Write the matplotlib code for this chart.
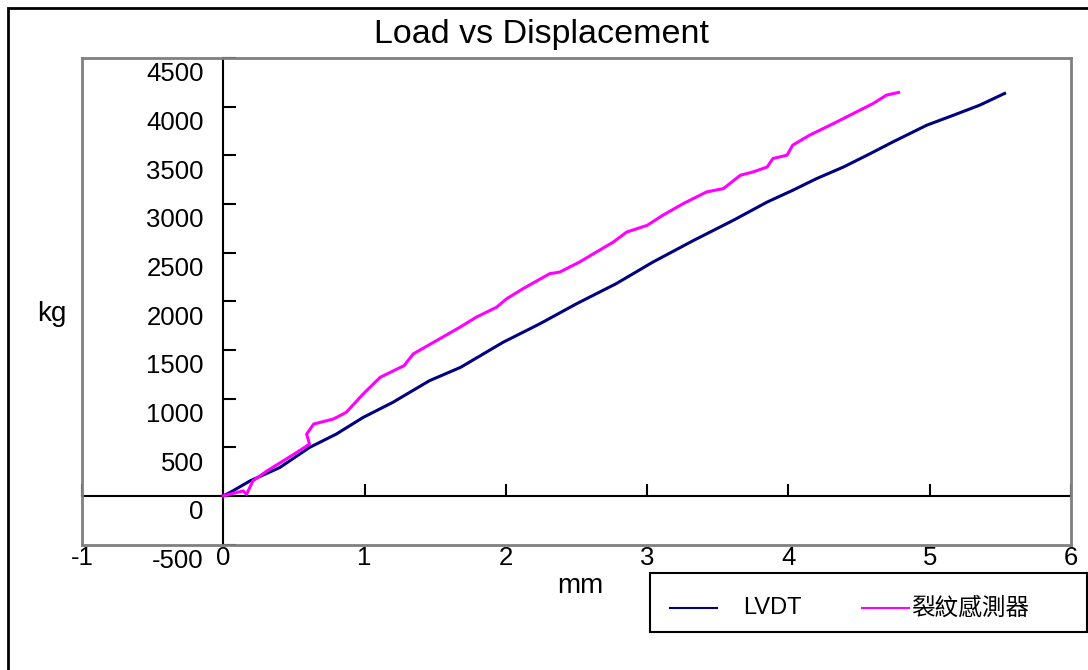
import matplotlib
matplotlib.use("Agg")
import matplotlib.pyplot as plt
from matplotlib.patches import Rectangle
from matplotlib.lines import Line2D
from matplotlib.transforms import ScaledTranslation

plt.rcParams['font.family'] = ['Liberation Sans', 'Noto Sans CJK TC', 'DejaVu Sans']
plt.rcParams['axes.unicode_minus'] = False

# LVDT readings (mm, kg)
lvdt_mm = [0, 0.047, 0.19, 0.40, 0.61, 0.80, 0.99, 1.20, 1.46, 1.68, 1.98, 2.24,
           2.50, 2.78, 3.04, 3.33, 3.61, 3.85, 4.03, 4.20, 4.39, 4.58, 4.74, 4.98,
           5.17, 5.355, 5.53]
lvdt_kg = [0, 34, 154, 291, 497, 635, 806, 961, 1184, 1321, 1578, 1768,
           1974, 2180, 2402, 2626, 2832, 3020, 3140, 3261, 3380, 3518, 3638, 3810,
           3913, 4016, 4136]

# crack gauge readings (mm, kg)
crack_mm = [0, 0.047, 0.14, 0.165, 0.21, 0.31, 0.425, 0.52, 0.61, 0.59, 0.64, 0.78,
            0.87, 0.99, 1.11, 1.28, 1.345, 1.53, 1.675, 1.79, 1.935, 2.005, 2.12, 2.31,
            2.38, 2.52, 2.64, 2.76, 2.855, 3.00, 3.11, 3.255, 3.42, 3.54, 3.66, 3.75,
            3.85, 3.89, 3.99, 4.03, 4.15, 4.32, 4.46, 4.60, 4.695, 4.78]
crack_kg = [0, 17, 51, 17, 154, 257, 360, 446, 532, 635, 738, 790,
            858, 1047, 1218, 1339, 1459, 1613, 1733, 1836, 1939, 2025, 2128, 2283,
            2299, 2402, 2505, 2608, 2711, 2780, 2883, 3003, 3123, 3158, 3295, 3329,
            3380, 3467, 3501, 3604, 3707, 3827, 3930, 4033, 4119, 4146]

x_ticks = [-1, 0, 1, 2, 3, 4, 5, 6]
y_ticks = [-500, 0, 500, 1000, 1500, 2000, 2500, 3000, 3500, 4000, 4500]

lvdt_color = '#000080'
crack_color = '#FF00FF'

W, H = 1088, 670
fig = plt.figure(figsize=(W / 100, H / 100), dpi=100)


def fx(px):
    return px / W


def fy(py):
    return 1 - py / H


# outer chart border (runs off the right and bottom edges)
fig.add_artist(Rectangle((fx(8), -0.1), 1.2, fy(8) + 0.1, transform=fig.transFigure,
                         fill=False, ec='black', lw=2))

left, top, right, bottom = 82, 58, 1071, 544.5
ax = fig.add_axes([fx(left), fy(bottom), (right - left) / W, (bottom - top) / H])
ax.set_xlim(-1, 6)
ax.set_ylim(-500, 4500)
for s in ax.spines.values():
    s.set_color('#808080')
    s.set_linewidth(2)

ax.set_xticks(x_ticks)
ax.tick_params(axis='x', length=0, pad=1, labelsize=18.5)
ax.set_yticks([])

ax.plot(lvdt_mm, lvdt_kg, color=lvdt_color, lw=2.2, zorder=3)
ax.plot(crack_mm, crack_kg, color=crack_color, lw=2.2, zorder=3)

# axis lines crossing at the origin
yax = ax.secondary_yaxis(0, transform=ax.transData)
yax.set_yticks(y_ticks)
yax.tick_params(direction='in', length=9, width=1.5, pad=14, labelsize=18.5)
yax.spines['left'].set_linewidth(1.5)
shift = ScaledTranslation(0, -14 / 100, fig.dpi_scale_trans)
for lab in yax.get_yticklabels():
    lab.set_transform(lab.get_transform() + shift)

xax = ax.secondary_xaxis(0, transform=ax.transData)
xax.set_xticks(x_ticks)
xax.tick_params(direction='in', length=9, width=1.5, labelbottom=False)
xax.spines['bottom'].set_linewidth(1.5)

ax.set_ylabel('kg', rotation=0, fontsize=20, va='center', ha='center')
ax.yaxis.set_label_coords((52 - left) / (right - left), (bottom - 314) / (bottom - top))
ax.set_xlabel('mm', fontsize=20, va='center')
ax.xaxis.set_label_coords((580 - left) / (right - left), (bottom - 586) / (bottom - top))

fig.text(fx(541), fy(43), 'Load vs Displacement', ha='center', va='baseline', fontsize=24.5)

# legend box
fig.add_artist(Rectangle((fx(650), fy(632)), (1087 - 650) / W, (632 - 573) / H,
                         transform=fig.transFigure, fill=False, ec='black', lw=1.5))
fig.add_artist(Line2D([fx(670), fx(717)], [fy(608), fy(608)], transform=fig.transFigure,
                      color=lvdt_color, lw=1.5))
fig.text(fx(743), fy(608), 'LVDT', va='center', fontsize=17)
fig.add_artist(Line2D([fx(862), fx(909)], [fy(608), fy(608)], transform=fig.transFigure,
                      color=crack_color, lw=1.5))
fig.text(fx(911), fy(608), '裂紋感測器', va='center', fontsize=17)

fig.savefig('out.png', dpi=100)
